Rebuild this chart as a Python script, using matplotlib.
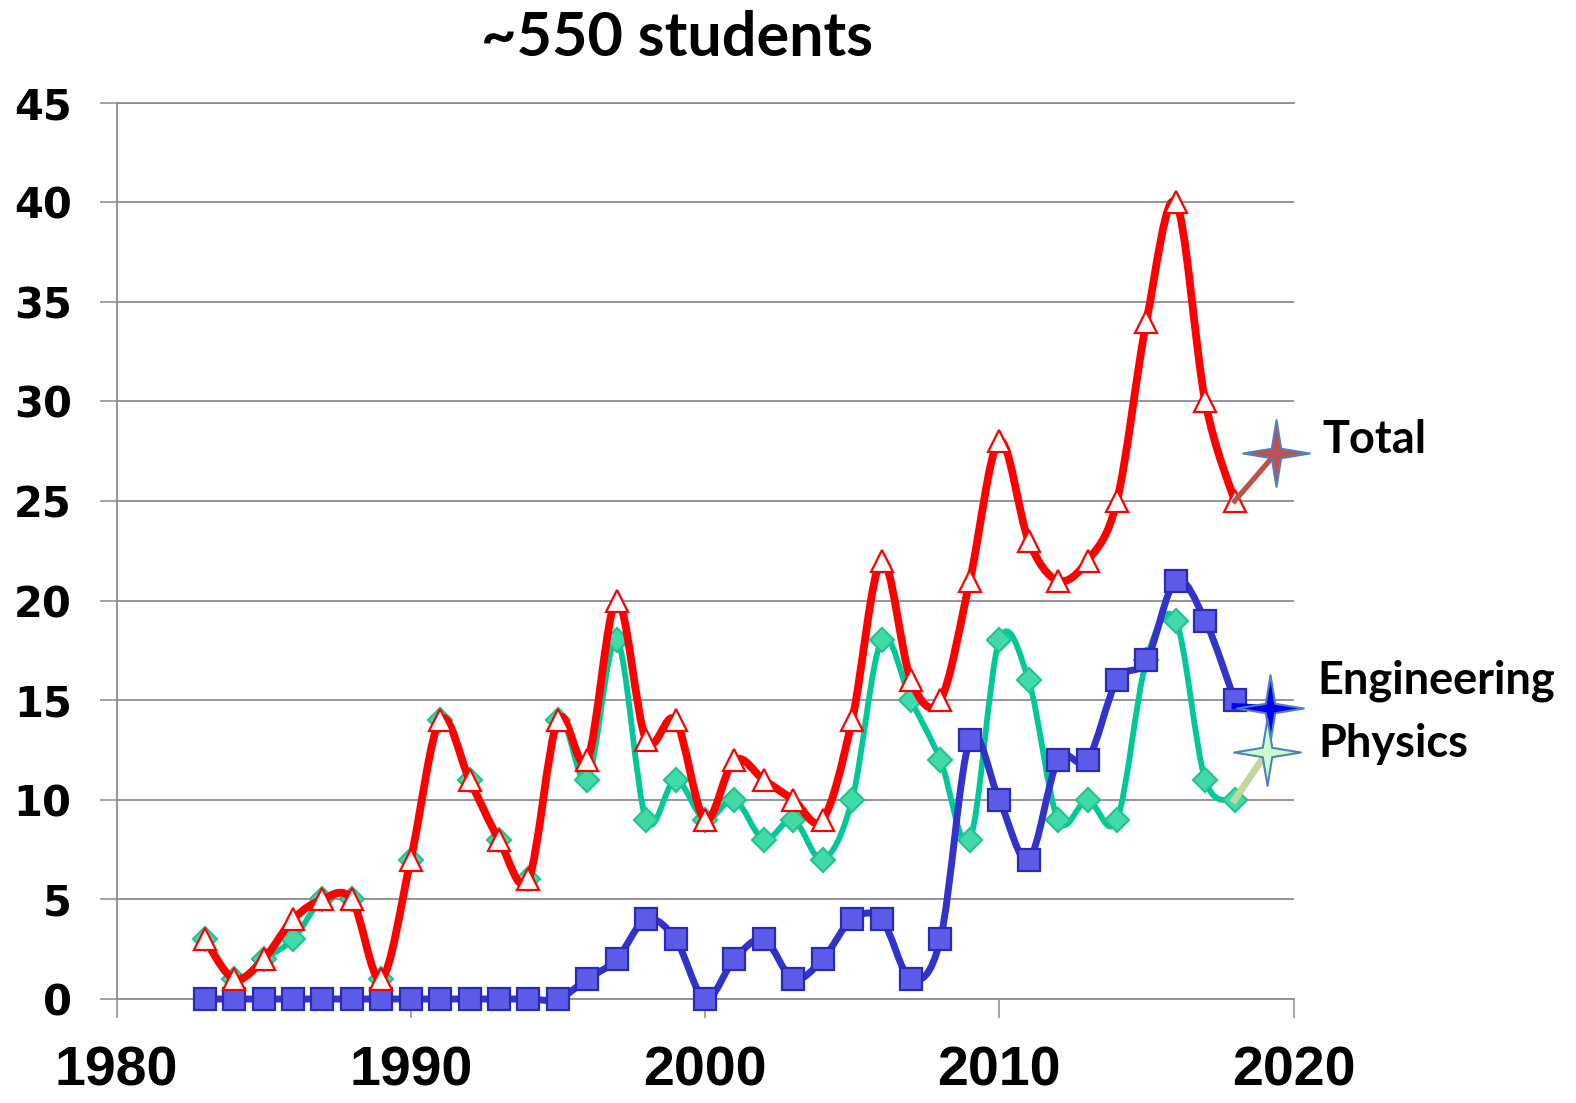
import numpy as np
import matplotlib
matplotlib.use("Agg")
import matplotlib.pyplot as plt
from matplotlib.path import Path
from matplotlib.patches import PathPatch

# student counts per year
years = list(range(1983, 2019))
total = [3, 1, 2, 4, 5, 5, 1, 7, 14, 11, 8, 6, 14, 12, 20, 13, 14, 9, 12, 11,
         10, 9, 14, 22, 16, 15, 21, 28, 23, 21, 22, 25, 34, 40, 30, 25]
physics = [3, 1, 2, 3, 5, 5, 1, 7, 14, 11, 8, 6, 14, 11, 18, 9, 11, 9, 10, 8,
           9, 7, 10, 18, 15, 12, 8, 18, 16, 9, 10, 9, 17, 19, 11, 10]
engineering = [0, 0, 0, 0, 0, 0, 0, 0, 0, 0, 0, 0, 0, 1, 2, 4, 3, 0, 2, 3,
               1, 2, 4, 4, 1, 3, 13, 10, 7, 12, 12, 16, 17, 21, 19, 15]

# label stars (x, y) in data units
star_total = (2019.4, 27.4)
star_eng = (2019.2, 14.6)
star_phys = (2019.1, 12.4)

W, H = 1576, 1103


def smooth_path(xs, ys):
    # excel-like smoothed line: catmull-rom turned into bezier segments
    pts = np.column_stack([xs, ys]).astype(float)
    ext = np.vstack([pts[0], pts, pts[-1]])
    verts = [pts[0]]
    codes = [Path.MOVETO]
    for i in range(len(pts) - 1):
        p0, p1, p2, p3 = ext[i], ext[i + 1], ext[i + 2], ext[i + 3]
        verts += [p1 + (p2 - p0) / 6, p2 - (p3 - p1) / 6, p2]
        codes += [Path.CURVE4] * 3
    return Path(verts, codes)


fig = plt.figure(figsize=(W / 100, H / 100), dpi=100)
ax = fig.add_axes([116.5 / W, (H - 999) / H, 1177 / W, 896.3 / H])
ax.set_xlim(1980, 2020)
ax.set_ylim(0, 45)

grey = "#8c8c8c"
ax.spines["right"].set_visible(False)
for s in ["left", "bottom", "top"]:
    ax.spines[s].set_color(grey)
    ax.spines[s].set_linewidth(1.3)
ax.yaxis.grid(True, color=grey, linewidth=1.3)
ax.set_axisbelow(True)

ax.set_xticks([1980, 1990, 2000, 2010, 2020])
ax.set_yticks(range(0, 46, 5))
ax.tick_params(axis="x", direction="out", length=13.7, width=1.1, color=grey, pad=20)
ax.tick_params(axis="y", direction="out", length=12.2, width=1.1, color=grey, pad=20)
for lab in ax.get_xticklabels():
    lab.set_fontfamily(["Liberation Sans", "DejaVu Sans"])
    lab.set_fontweight("bold")
    lab.set_fontsize(40)
for lab in ax.get_yticklabels():
    lab.set_fontfamily(["DejaVu Sans"])
    lab.set_fontweight("bold")
    lab.set_fontsize(30)

series = [
    (physics, "#00c896", 4.2, "D", 12, "#40dba8", "#25c48f", 2),
    (engineering, "#3333cc", 5.0, "s", 15.5, "#5c5ce8", "#2a2ab8", 3),
    (total, "#ff0000", 5.6, "^", 16.5, "white", "#ff0000", 4),
]
for vals, col, lw, mk, ms, mfc, mec, z in series:
    patch = PathPatch(smooth_path(years, vals), fill=False, edgecolor=col,
                      linewidth=lw, zorder=z, clip_on=False, capstyle="round")
    ax.add_patch(patch)
    ax.plot(years, vals, linestyle="none", marker=mk, markersize=ms,
            markerfacecolor=mfc, markeredgecolor=mec, markeredgewidth=1.6,
            zorder=z + 0.5, clip_on=False)

# connectors from last points to the label stars
ax.plot([years[-1], star_total[0]], [total[-1], star_total[1]], color="#c0504d",
        linewidth=3.8, zorder=6, clip_on=False)
ax.plot([years[-1], star_phys[0]], [physics[-1], star_phys[1]], color="#c3d69b",
        linewidth=5, zorder=6, clip_on=False)
ax.plot([years[-1], star_eng[0]], [engineering[-1] - 0.3, star_eng[1]], color="#0000ee",
        linewidth=4.5, zorder=6, clip_on=False)

star = Path.unit_regular_star(4, innerCircle=0.2)
for pos, fc in [(star_total, "#c0504d"), (star_eng, "#0000ee"), (star_phys, "#ccffcc")]:
    ax.plot(pos[0], pos[1], marker=star, markersize=48, markerfacecolor=fc,
            markeredgecolor="#4f81bd", markeredgewidth=1.5, zorder=7, clip_on=False)

fam = ["Lato", "DejaVu Sans"]
fig.text(677.5 / W, 1 - 56 / H, "~550 students", ha="center", va="baseline",
         fontsize=44, fontweight="bold", family=fam)
fig.text(1322 / W, 1 - 453 / H, "Total", ha="left", va="baseline",
         fontsize=32.5, fontweight="bold", family=fam)
fig.text(1317 / W, 1 - 693 / H, "Engineering", ha="left", va="baseline",
         fontsize=32.5, fontweight="bold", family=fam)
fig.text(1318 / W, 1 - 757 / H, "Physics", ha="left", va="baseline",
         fontsize=32.5, fontweight="bold", family=fam)

fig.savefig("out.png", dpi=100, facecolor="white")
